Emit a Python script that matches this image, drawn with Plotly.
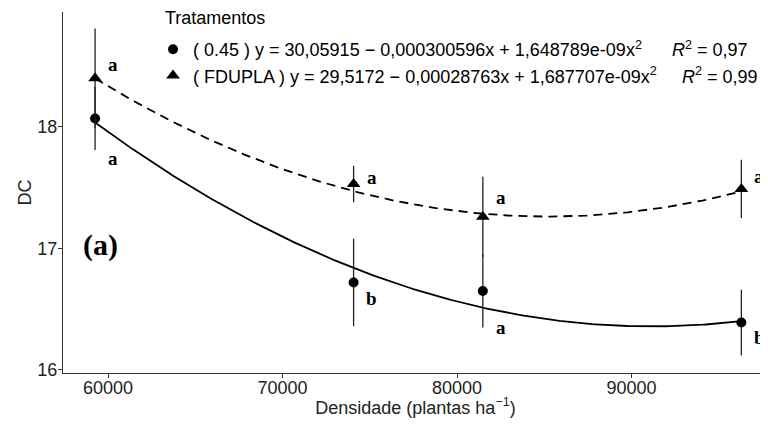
import numpy as np
import plotly.graph_objects as go

# ---- data ----
densidade = [59259, 74074, 81481, 96296]
dc_045 = [18.07, 16.72, 16.65, 16.39]
err_045 = [0.26, 0.36, 0.30, 0.27]
dc_fdupla = [18.40, 17.53, 17.26, 17.49]
err_fdupla = [0.41, 0.15, 0.33, 0.24]

coef_045 = [30.05915, -0.000300596, 1.648789e-09]
coef_fdupla = [29.5172, -0.00028763, 1.687707e-09]

lab_045 = ["a", "b", "a", "b"]
lab_045_y = [17.74, 16.59, 16.35, 16.27]
lab_fdupla = ["a", "a", "a", "a"]
lab_fdupla_y = [18.51, 17.58, 17.42, 17.59]

xticks = [60000, 70000, 80000, 90000]
yticks = [16, 17, 18]

name_045 = "( 0.45 ) y = 30,05915 − 0,000300596x + 1,648789e-09x<sup>2</sup>      <i>R</i><sup>2</sup> = 0,97"
name_fdupla = "( FDUPLA ) y = 29,5172 − 0,00028763x + 1,687707e-09x<sup>2</sup>     <i>R</i><sup>2</sup> = 0,99"

xs = np.linspace(min(densidade), max(densidade), 200)
def poly(c, x):
    return c[0] + c[1] * x + c[2] * x ** 2

fig = go.Figure()
fig.add_trace(go.Scatter(x=xs, y=poly(coef_fdupla, xs), mode="lines",
                         line=dict(color="black", width=1.8, dash="9px,6px"),
                         showlegend=False, hoverinfo="skip"))
fig.add_trace(go.Scatter(x=xs, y=poly(coef_045, xs), mode="lines",
                         line=dict(color="black", width=1.8),
                         showlegend=False, hoverinfo="skip"))
fig.add_trace(go.Scatter(x=densidade, y=dc_045, mode="markers", name=name_045,
                         marker=dict(symbol="circle", size=10, color="black"),
                         error_y=dict(type="data", array=err_045, width=0,
                                      color="#222", thickness=1.3)))
fig.add_trace(go.Scatter(x=densidade, y=dc_fdupla, mode="markers", name=name_fdupla,
                         marker=dict(symbol="triangle-up", size=12, color="black"),
                         error_y=dict(type="data", array=err_fdupla, width=0,
                                      color="#222", thickness=1.3)))

for xv, t, yv in zip(densidade, lab_045, lab_045_y):
    fig.add_annotation(x=xv, y=yv, text="<b>" + t + "</b>", showarrow=False, xshift=18,
                       font=dict(family="Liberation Serif", size=19, color="black"))
for xv, t, yv in zip(densidade, lab_fdupla, lab_fdupla_y):
    fig.add_annotation(x=xv, y=yv, text="<b>" + t + "</b>", showarrow=False, xshift=18,
                       font=dict(family="Liberation Serif", size=19, color="black"))

fig.add_annotation(x=59560, y=17.03, text="<b>(a)</b>", showarrow=False,
                   font=dict(family="Liberation Serif", size=30, color="black"))

fig.add_annotation(xref="paper", yref="paper", x=0.1418, y=0.9726, xanchor="left",
                   yanchor="middle", text="Tratamentos", showarrow=False,
                   font=dict(family="Liberation Sans, Arial", size=18, color="black"))

font_axis = dict(family="Liberation Sans, Arial", size=18, color="#222")
axis_common = dict(showline=True, linecolor="#333", linewidth=1.2, ticks="outside",
                   ticklen=4, tickcolor="#333", showgrid=False, zeroline=False,
                   automargin=False, tickfont=font_axis)
fig.update_xaxes(range=[57421, 97822], tickvals=xticks, tickformat="d",
                 ticklabelstandoff=-6,
                 title=dict(text="Densidade (plantas ha<sup>−1</sup>)", standoff=0,
                            font=font_axis),
                 **axis_common)
fig.update_yaxes(range=[15.975, 18.946], tickvals=yticks, domain=[0, 361 / 365],
                 ticklabelstandoff=-3,
                 title=dict(text="DC", standoff=0, font=font_axis),
                 **axis_common)

fig.update_layout(
    width=768, height=410,
    margin=dict(l=55, r=8, t=0, b=45),
    plot_bgcolor="white", paper_bgcolor="white",
    legend=dict(x=0.1277, y=0.937, xanchor="left", yanchor="top",
                bgcolor="rgba(0,0,0,0)",
                font=dict(family="Liberation Sans, Arial", size=18, color="black")),
)
fig.write_html("out.html")
